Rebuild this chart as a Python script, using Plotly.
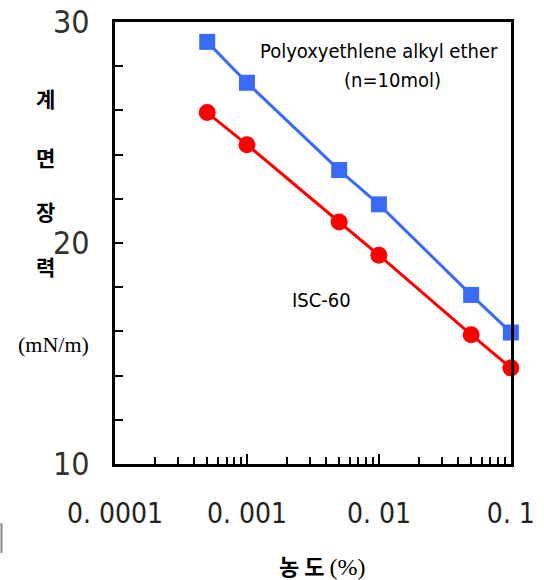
import plotly.graph_objects as go

conc = [0.0005, 0.001, 0.005, 0.01, 0.05, 0.1]
poe_tension = [29.1, 27.25, 23.3, 21.75, 17.65, 15.95]
isc_tension = [25.9, 24.45, 20.95, 19.45, 15.85, 14.35]
x_ticks = [0.0001, 0.001, 0.01, 0.1]
x_labels = ["0. 0001", "0. 001", "0. 01", "0. 1"]
y_ticks = [10, 20, 30]
y_labels = ["10", "20", "30"]

W, H = 544, 580
L, R, T, B = 115, 511, 22, 464

def px(x):
    return (x - L) / (R - L)

def py(y):
    return (B - y) / (B - T)

NARROW = "Liberation Sans Narrow, DejaVu Sans Condensed, Arial Narrow, sans-serif"
KR = "Noto Sans CJK KR"

fig = go.Figure()
fig.add_trace(go.Scatter(x=conc, y=poe_tension, mode="lines+markers",
                         line=dict(color="#3A6BF7", width=3),
                         marker=dict(symbol="square", size=16, color="#3A6BF7"),
                         cliponaxis=False, showlegend=False))
fig.add_trace(go.Scatter(x=conc, y=isc_tension, mode="lines+markers",
                         line=dict(color="#FF0000", width=3),
                         marker=dict(symbol="circle", size=17, color="#FF0000"),
                         cliponaxis=False, showlegend=False))

minor_x = []
for d in [0.0001, 0.001, 0.01]:
    for k in range(2, 10):
        minor_x.append(d * k)

fig.update_layout(
    width=W, height=H,
    margin=dict(l=L, r=W - R, t=T, b=H - B),
    paper_bgcolor="white", plot_bgcolor="white",
    xaxis=dict(type="log", range=[-4, -0.999], tickvals=x_ticks, ticktext=x_labels,
               ticks="inside", ticklen=10, tickwidth=1.5, tickcolor="black",
               minor=dict(tickvals=minor_x, ticks="inside", ticklen=7, tickwidth=1.5,
                          tickcolor="black", showgrid=False),
               showline=True, linecolor="black", linewidth=3, mirror=True,
               showgrid=False, zeroline=False, automargin=False,
               tickfont=dict(family=NARROW, size=28, color="#222"),
               ticklabelstandoff=22),
    yaxis=dict(range=[10, 30], tickvals=y_ticks, ticktext=y_labels,
               ticks="inside", ticklen=8, tickwidth=1.5, tickcolor="black",
               minor=dict(dtick=2, tick0=10, ticks="inside", ticklen=8, tickwidth=1.5,
                          tickcolor="black", showgrid=False),
               showline=True, linecolor="black", linewidth=3, mirror=True,
               showgrid=False, zeroline=False, automargin=False,
               tickfont=dict(family=NARROW, size=32, color="#333"),
               ticklabelstandoff=16),
)

ann = []
def add(text, x, y, size, family, bold=False, xanchor="center", color="black"):
    t = f"<b>{text}</b>" if bold else text
    ann.append(dict(text=t, x=px(x), y=py(y), xref="paper", yref="paper",
                    xanchor=xanchor, yanchor="middle", showarrow=False,
                    font=dict(size=size, family=family, color=color)))

add("Polyoxyethlene alkyl ether", 379, 51, 20, NARROW)
add("(n=10mol)", 392, 80, 20, NARROW)
add("ISC-60", 321, 300, 20, NARROW)
for ch, yy in zip(["계", "면", "장", "력"], [98, 157, 211, 266]):
    add(ch, 45, yy, 21, KR, bold=True)
add("(mN/m)", 53, 344, 22, "Liberation Serif, serif")
ann.append(dict(text="<b>농 도</b> <span style='font-family:Liberation Serif;font-size:24px'>(%)</span>",
                x=px(322), y=py(565), xref="paper", yref="paper",
                xanchor="center", yanchor="middle", showarrow=False,
                font=dict(size=22, family=KR, color="black")))
fig.update_layout(annotations=ann)

fig.add_shape(type="line", xref="paper", yref="paper",
              x0=px(1.5), x1=px(1.5), y0=py(523), y1=py(553),
              line=dict(color="#888", width=2))

fig.write_html("out.html", config={"displayModeBar": False},
               post_script="document.body.style.margin='0';document.body.style.overflow='hidden';")
